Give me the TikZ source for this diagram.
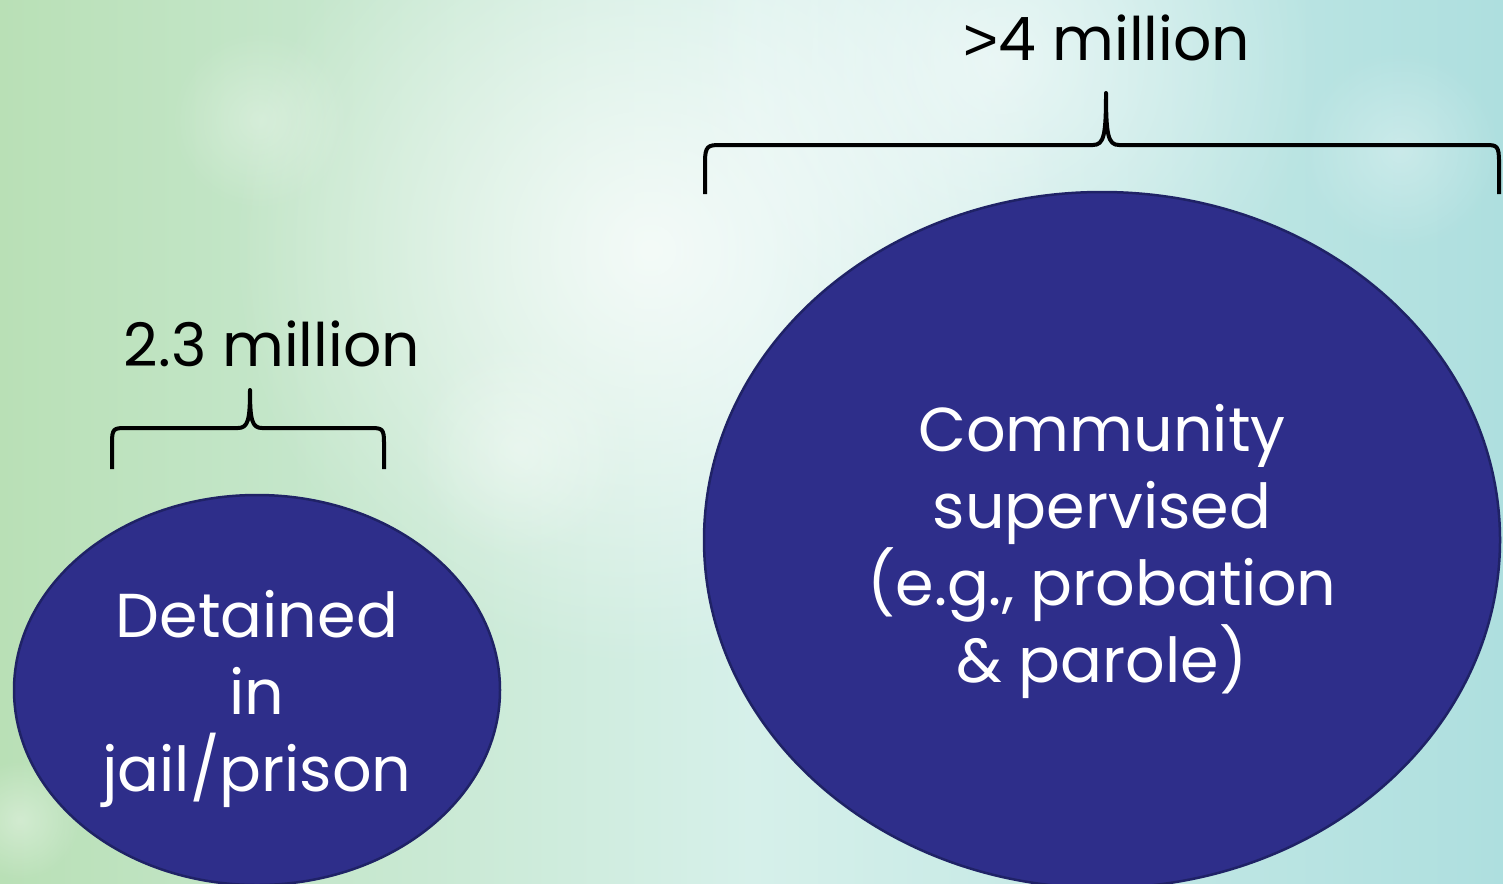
\documentclass[tikz,border=0pt]{standalone}
\usepackage{fontspec}
\setmainfont{Poppins}
\newfontfamily\gtfont{Liberation Sans}
\usetikzlibrary{shapes.geometric,fadings}
\tikzfading[name=softglow, inner color=transparent!0, outer color=transparent!100]
\definecolor{navy}{HTML}{2E2E8A}
\definecolor{navyedge}{HTML}{1F2266}
\definecolor{bgleft}{HTML}{B9E0B6}
\definecolor{bgmid}{HTML}{D6F0EA}
\definecolor{bgright}{HTML}{AEDFDF}
\tikzset{
  blob/.style={ellipse, fill=navy, draw=navyedge, line width=2.5pt, inner sep=0pt},
  inlabel/.style={text=white, align=center, font=\fontsize{62}{77}\selectfont},
  toplabel/.style={text=black, anchor=base, font=\fontsize{60}{72}\selectfont},
  bracepath/.style={draw=black, line width=4pt, line cap=butt, line join=round},
  glow/.style={fill=white, path fading=softglow}
}
\begin{document}
\begin{tikzpicture}[x=1pt,y=-1pt]
\useasboundingbox (0,0) rectangle (1503,883);
% background
\shade[left color=bgleft, right color=bgright, middle color=bgmid] (0,0) rectangle (1503,883);
\begin{scope}
\clip (0,0) rectangle (1503,883);
\fill[glow, opacity=0.75] (650,250) circle (420);
\fill[glow, opacity=0.6] (1000,60) circle (320);
\fill[glow, opacity=0.35] (520,450) circle (110);
\fill[glow, opacity=0.3] (260,120) circle (90);
\fill[glow, opacity=0.3] (1400,150) circle (100);
\fill[glow, opacity=0.35] (20,820) circle (60);
\end{scope}
% ellipses
\node[blob, minimum width=486, minimum height=390] (jail) at (257,690) {};
\node[blob, minimum width=796, minimum height=696] (comm) at (1102,540) {};
\node[inlabel] (jailtxt) at (257,699) {Detained\\in\\jail/prison};
\node[inlabel] (commtxt) at (1102,551) {Community\\supervised\\(e.g., probation\\\& parole)};
% labels
\node[toplabel] (big) at (1107,60) {{\gtfont\fontsize{60}{72}\selectfont >}4 million};
\node[toplabel] (small) at (272,366) {2.3 million};
% brace coordinates
\coordinate (bl) at (705,194);
\coordinate (br) at (1499,194);
\coordinate (bt) at (1106,93);
\coordinate (sl) at (112,469);
\coordinate (sr) at (384,469);
\coordinate (st) at (250,390);
% large brace
\draw[bracepath] (bl) -- (705,162) .. controls (705,146) and (708,145) .. (720,145)
  -- (1093,145) .. controls (1104,145) and (1106,135) .. (bt)
  .. controls (1106,135) and (1108,145) .. (1119,145)
  -- (1486,145) .. controls (1497,145) and (1499,146) .. (1499,162) -- (br);
% small brace
\draw[bracepath] (sl) -- (112,442) .. controls (112,429) and (114,428) .. (125,428)
  -- (238,428) .. controls (248,428) and (250,420) .. (st)
  .. controls (250,420) and (252,428) .. (262,428)
  -- (371,428) .. controls (382,428) and (384,429) .. (384,442) -- (sr);
\end{tikzpicture}
\end{document}
